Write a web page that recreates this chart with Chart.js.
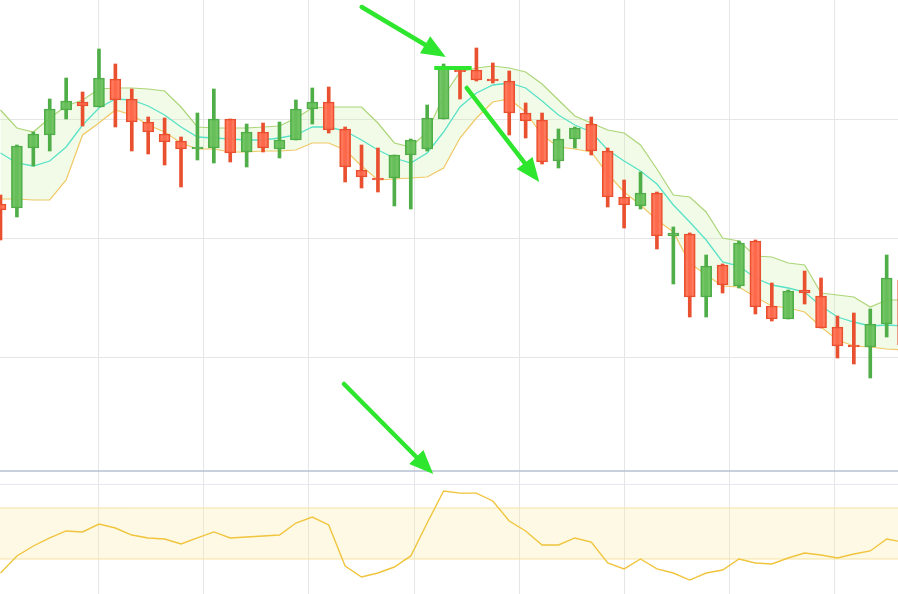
<!DOCTYPE html>
<html>
<head>
<meta charset="utf-8">
<script src="https://cdn.jsdelivr.net/npm/chart.js@4.4.1/dist/chart.umd.min.js"></script>
<style>
  html, body { margin: 0; padding: 0; background: #fff; }
  canvas { display: block; }
</style>
</head>
<body>
<canvas id="myChart" width="898" height="594"></canvas>
<script>
// candles (price)
const open = [1.1796, 1.1792, 1.1852, 1.1865, 1.1890, 1.1898, 1.1893, 1.1921, 1.1901, 1.1878,
  1.1866, 1.1859, 1.1851, 1.1852, 1.1881, 1.1848, 1.1868, 1.1851, 1.1860, 1.1891,
  1.1898, 1.1871, 1.1830, 1.1822, 1.1822, 1.1845, 1.1851, 1.1881, 1.1930, 1.1930,
  1.1921, 1.1919, 1.1887, 1.1880, 1.1839, 1.1861, 1.1876, 1.1849, 1.1803, 1.1794,
  1.1807, 1.1764, 1.1766, 1.1703, 1.1735, 1.1714, 1.1759, 1.1694, 1.1681, 1.1710,
  1.1704, 1.1673, 1.1655, 1.1653, 1.1676, 1.1720]
const close = [1.1790, 1.1854, 1.1866, 1.1891, 1.1899, 1.1894, 1.1922, 1.1900, 1.1878, 1.1868,
  1.1858, 1.1851, 1.1853, 1.1881, 1.1847, 1.1868, 1.1852, 1.1860, 1.1891, 1.1898,
  1.1870, 1.1833, 1.1823, 1.1820, 1.1845, 1.1860, 1.1882, 1.1932, 1.1928, 1.1920,
  1.1919, 1.1887, 1.1879, 1.1838, 1.1861, 1.1872, 1.1849, 1.1803, 1.1795, 1.1807,
  1.1764, 1.1767, 1.1703, 1.1734, 1.1715, 1.1757, 1.1693, 1.1681, 1.1709, 1.1707,
  1.1672, 1.1654, 1.1653, 1.1676, 1.1722, 1.1655]
const high = [1.1805, 1.1855, 1.1868, 1.1901, 1.1922, 1.1908, 1.1951, 1.1936, 1.1911, 1.1883,
  1.1882, 1.1863, 1.1887, 1.1911, 1.1881, 1.1876, 1.1877, 1.1878, 1.1900, 1.1912,
  1.1913, 1.1873, 1.1855, 1.1852, 1.1845, 1.1861, 1.1895, 1.1936, 1.1932, 1.1952,
  1.1937, 1.1929, 1.1897, 1.1887, 1.1871, 1.1873, 1.1883, 1.1852, 1.1820, 1.1828,
  1.1808, 1.1773, 1.1767, 1.1745, 1.1736, 1.1759, 1.1760, 1.1717, 1.1710, 1.1729,
  1.1722, 1.1684, 1.1687, 1.1691, 1.1745, 1.1725]
const low = [1.1760, 1.1783, 1.1834, 1.1849, 1.1881, 1.1874, 1.1893, 1.1873, 1.1849, 1.1846,
  1.1835, 1.1813, 1.1840, 1.1837, 1.1838, 1.1833, 1.1848, 1.1842, 1.1860, 1.1876,
  1.1867, 1.1818, 1.1812, 1.1808, 1.1794, 1.1791, 1.1849, 1.1881, 1.1901, 1.1919,
  1.1917, 1.1865, 1.1862, 1.1836, 1.1832, 1.1852, 1.1845, 1.1793, 1.1772, 1.1791,
  1.1751, 1.1716, 1.1683, 1.1683, 1.1707, 1.1712, 1.1686, 1.1679, 1.1681, 1.1696,
  1.1672, 1.1642, 1.1636, 1.1622, 1.1663, 1.1650]

// envelope / bands
const upperBand = [1.1890, 1.1872, 1.1868, 1.1882, 1.1894, 1.1900, 1.1911, 1.1912, 1.1912, 1.1911,
  1.1909, 1.1893, 1.1873, 1.1872, 1.1872, 1.1872, 1.1873, 1.1874, 1.1882, 1.1892,
  1.1893, 1.1893, 1.1893, 1.1877, 1.1857, 1.1853, 1.1868, 1.1904, 1.1928, 1.1932,
  1.1934, 1.1932, 1.1928, 1.1916, 1.1900, 1.1884, 1.1877, 1.1870, 1.1867, 1.1855,
  1.1831, 1.1805, 1.1803, 1.1788, 1.1762, 1.1759, 1.1744, 1.1743, 1.1737, 1.1735,
  1.1707, 1.1705, 1.1703, 1.1693, 1.1700, 1.1700]
const middleBand = [1.1847, 1.1837, 1.1834, 1.1839, 1.1853, 1.1875, 1.1892, 1.1901, 1.1900, 1.1894,
  1.1885, 1.1873, 1.1863, 1.1862, 1.1861, 1.1860, 1.1860, 1.1862, 1.1865, 1.1873,
  1.1873, 1.1869, 1.1860, 1.1850, 1.1842, 1.1837, 1.1847, 1.1868, 1.1893, 1.1907,
  1.1915, 1.1917, 1.1912, 1.1899, 1.1885, 1.1875, 1.1868, 1.1850, 1.1839, 1.1829,
  1.1816, 1.1795, 1.1778, 1.1760, 1.1738, 1.1734, 1.1722, 1.1715, 1.1712, 1.1708,
  1.1694, 1.1683, 1.1678, 1.1674, 1.1675, 1.1674]
const lowerBand = [1.1801, 1.1801, 1.1800, 1.1800, 1.1820, 1.1865, 1.1877, 1.1890, 1.1885, 1.1875,
  1.1868, 1.1857, 1.1851, 1.1851, 1.1848, 1.1848, 1.1849, 1.1849, 1.1850, 1.1857,
  1.1857, 1.1850, 1.1834, 1.1820, 1.1821, 1.1822, 1.1823, 1.1832, 1.1862, 1.1882,
  1.1898, 1.1901, 1.1888, 1.1865, 1.1853, 1.1851, 1.1848, 1.1826, 1.1808, 1.1795,
  1.1780, 1.1768, 1.1737, 1.1725, 1.1714, 1.1713, 1.1703, 1.1694, 1.1692, 1.1688,
  1.1673, 1.1660, 1.1654, 1.1653, 1.1651, 1.1650]

// oscillator
const osc = [19.0, 32.4, 40.2, 46.5, 52.0, 51.2, 57.4, 54.3, 48.8, 46.5,
  45.7, 41.8, 46.5, 51.2, 46.5, 47.2, 48.0, 48.8, 58.2, 62.9,
  56.7, 24.5, 15.9, 19.0, 23.7, 32.4, 58.2, 83.3, 81.7, 81.7,
  75.5, 59.8, 52.0, 41.0, 41.0, 46.5, 43.3, 26.9, 22.2, 30.0,
  22.2, 19.0, 13.5, 19.0, 21.4, 30.0, 26.9, 26.1, 30.8, 34.7,
  33.1, 30.8, 33.9, 36.3, 45.7, 43.3]
const oscLevels = [70, 30]
const paneLines = [99, 89]

const bars = open.map((_, i) => i)

// grid ticks (bar index / price)
const gridX = [5.94, 12.34, 18.74, 25.2, 31.6, 38.0, 44.39, 50.79]
const gridY = [1.1881, 1.1762, 1.1643]

// annotations: [x1, price1, x2, price2]
const arrows = [
  [22.01, 1.1993, 27.13, 1.1943],
  [28.41, 1.1912, 32.83, 1.1818],
  [20.93, 1.1616, 26.37, 1.1526]
]
const levelMark = [26.43, 28.71, 1.1932]

const isUp = i => close[i] >= open[i]

const gridPlugin = {
  id: 'grid',
  beforeDatasetsDraw(chart) {
    const { ctx, chartArea: a, scales } = chart
    ctx.save()
    ctx.lineWidth = 1
    ctx.strokeStyle = '#e6e6e9'
    gridX.forEach(v => {
      const x = Math.round(scales.x.getPixelForValue(v)) + 0.5
      ctx.beginPath(); ctx.moveTo(x, a.top); ctx.lineTo(x, a.bottom); ctx.stroke()
    })
    gridY.forEach(v => {
      const y = Math.round(scales.y.getPixelForValue(v)) + 0.5
      ctx.beginPath(); ctx.moveTo(a.left, y); ctx.lineTo(a.right, y); ctx.stroke()
    })
    // pane separator + oscillator top line
    let y = Math.round(scales.y2.getPixelForValue(paneLines[0]))
    ctx.strokeStyle = '#b4c0d0'
    ctx.lineWidth = 1.5
    ctx.beginPath(); ctx.moveTo(a.left, y); ctx.lineTo(a.right, y); ctx.stroke()
    y = Math.round(scales.y2.getPixelForValue(paneLines[1])) + 0.5
    ctx.strokeStyle = '#e6e8f0'
    ctx.lineWidth = 1
    ctx.beginPath(); ctx.moveTo(a.left, y); ctx.lineTo(a.right, y); ctx.stroke()
    // oscillator band
    const yTop = scales.y2.getPixelForValue(oscLevels[0])
    const yBot = scales.y2.getPixelForValue(oscLevels[1])
    ctx.fillStyle = 'rgba(252,236,170,0.3)'
    ctx.fillRect(a.left, yTop, a.width, yBot - yTop)
    ctx.strokeStyle = '#f7e3a4'
    ctx.beginPath(); ctx.moveTo(a.left, yTop); ctx.lineTo(a.right, yTop); ctx.stroke()
    ctx.beginPath(); ctx.moveTo(a.left, yBot); ctx.lineTo(a.right, yBot); ctx.stroke()
    ctx.restore()
  }
}

const arrowPlugin = {
  id: 'arrows',
  afterDatasetsDraw(chart) {
    const { ctx, scales } = chart
    const green = '#2ee62e'
    ctx.save()
    ctx.strokeStyle = green
    ctx.fillStyle = green
    ctx.lineWidth = 4.5
    ctx.lineCap = 'round'
    arrows.forEach(([a, p, b, q]) => {
      const x1 = scales.x.getPixelForValue(a), y1 = scales.y.getPixelForValue(p)
      const x2 = scales.x.getPixelForValue(b), y2 = scales.y.getPixelForValue(q)
      const ang = Math.atan2(y2 - y1, x2 - x1)
      const len = 24, half = 10
      const bx = x2 - len * Math.cos(ang), by = y2 - len * Math.sin(ang)
      ctx.beginPath(); ctx.moveTo(x1, y1); ctx.lineTo(bx, by); ctx.stroke()
      ctx.beginPath()
      ctx.moveTo(x2, y2)
      ctx.lineTo(bx + half * Math.sin(ang), by - half * Math.cos(ang))
      ctx.lineTo(bx - half * Math.sin(ang), by + half * Math.cos(ang))
      ctx.closePath()
      ctx.fill()
    })
    const y = scales.y.getPixelForValue(levelMark[2])
    ctx.lineCap = 'butt'
    ctx.lineWidth = 4
    ctx.beginPath()
    ctx.moveTo(scales.x.getPixelForValue(levelMark[0]), y)
    ctx.lineTo(scales.x.getPixelForValue(levelMark[1]), y)
    ctx.stroke()
    ctx.restore()
  }
}

const ctx = document.getElementById('myChart').getContext('2d')

new Chart(ctx, {
  type: 'bar',
  data: {
    datasets: [
      {
        type: 'line', label: 'upper', yAxisID: 'y', order: 5,
        data: bars.map(i => ({ x: i, y: upperBand[i] })),
        borderColor: '#acd578', borderWidth: 1.2, pointRadius: 0, fill: false
      },
      {
        type: 'line', label: 'middle', yAxisID: 'y', order: 4,
        data: bars.map(i => ({ x: i, y: middleBand[i] })),
        borderColor: '#58e2c8', borderWidth: 1.3, pointRadius: 0, fill: false
      },
      {
        type: 'line', label: 'lower', yAxisID: 'y', order: 5,
        data: bars.map(i => ({ x: i, y: lowerBand[i] })),
        borderColor: '#f0c866', borderWidth: 1.2, pointRadius: 0,
        fill: { target: 0 }, backgroundColor: 'rgba(200,240,160,0.25)'
      },
      {
        type: 'line', label: 'osc', yAxisID: 'y2', order: 3,
        data: bars.map(i => ({ x: i, y: osc[i] })),
        borderColor: '#f0c43c', borderWidth: 1.4, pointRadius: 0, fill: false
      },
      {
        label: 'wick', yAxisID: 'y', order: 2, grouped: false,
        data: bars.map(i => ({ x: i, y: [low[i], high[i]] })),
        barThickness: 3,
        backgroundColor: c => isUp(c.dataIndex) ? '#4fae48' : '#e9502f',
        borderWidth: 0
      },
      {
        label: 'body', yAxisID: 'y', order: 1, grouped: false,
        data: bars.map(i => ({ x: i, y: [open[i], close[i]] })),
        barThickness: 11,
        backgroundColor: c => isUp(c.dataIndex) ? 'rgba(104,192,90,0.92)' : 'rgba(255,108,78,0.9)',
        borderColor: c => isUp(c.dataIndex) ? '#4fae48' : '#e9502f',
        borderWidth: 1.5,
        borderSkipped: false
      }
    ]
  },
  options: {
    responsive: false,
    animation: false,
    devicePixelRatio: 1,
    layout: { padding: 0 },
    plugins: { legend: { display: false }, tooltip: { enabled: false } },
    scales: {
      x: { type: 'linear', display: false, offset: false, bounds: 'data', min: -0.0305, max: 54.69 },
      y: { type: 'linear', display: false, min: 1.1406, max: 1.2000 },
      y2: { type: 'linear', display: false, min: 2.55, max: 468.4 }
    }
  },
  plugins: [gridPlugin, arrowPlugin]
})
</script>
</body>
</html>
